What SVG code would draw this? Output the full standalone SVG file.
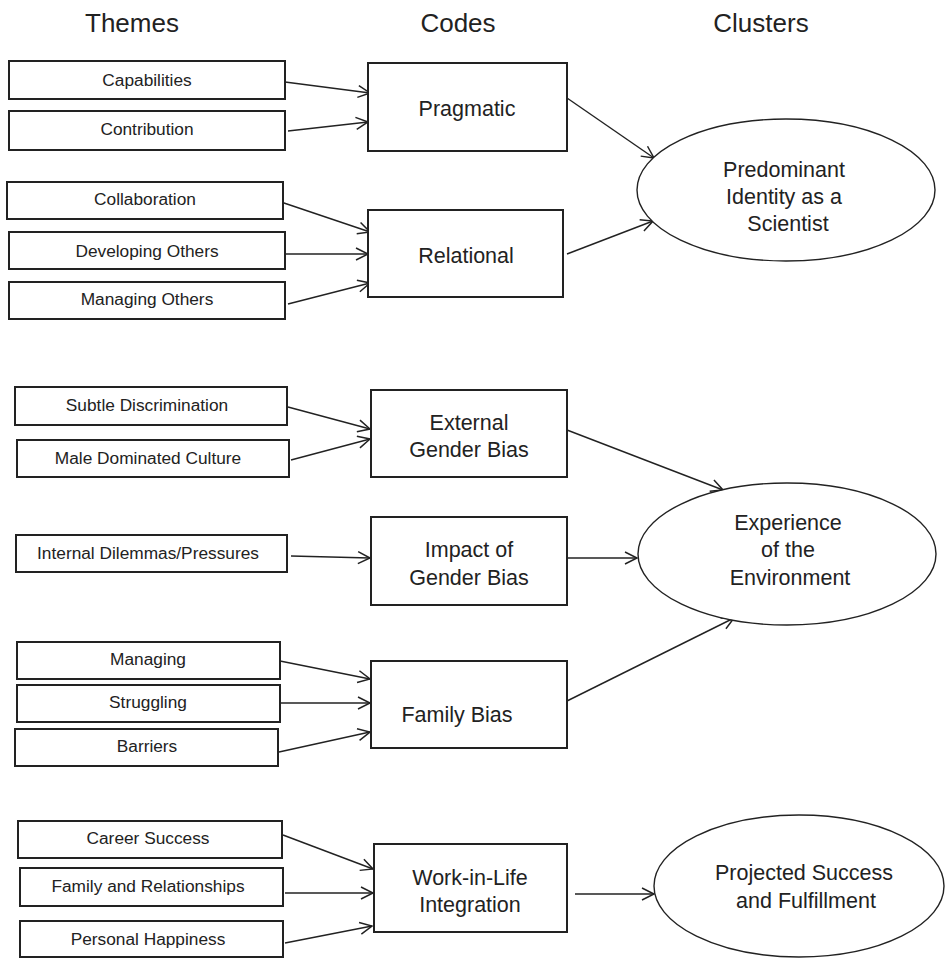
<svg xmlns="http://www.w3.org/2000/svg" width="945" height="958" viewBox="0 0 945 958">
<style>
text{font-family:"Liberation Sans",Arial,sans-serif;fill:#222;text-anchor:middle}
.hd{font-size:26px}
.th{font-size:17.3px}
.cd{font-size:21.5px}
.cl{font-size:21.5px}
.box{fill:#fff;stroke:#222;stroke-width:2}
.ell{fill:#fff;stroke:#222;stroke-width:1.4}
.con line{stroke:#222;stroke-width:1.4;marker-end:url(#ah)}
</style>
<defs>
<marker id="ah" markerUnits="userSpaceOnUse" markerWidth="16" markerHeight="16" refX="13" refY="7" orient="auto">
<path d="M1,1 L13,7 L1,13" fill="none" stroke="#222" stroke-width="1.5"/>
</marker>
</defs>
<rect width="945" height="958" fill="#fff"/>
<g id="headers">
<text class="hd" x="132" y="32">Themes</text>
<text class="hd" x="458" y="32">Codes</text>
<text class="hd" x="761" y="32">Clusters</text>
</g>
<g class="con" id="connectors">
<line x1="285" y1="82" x2="370" y2="93"/>
<line x1="288" y1="131" x2="368" y2="122"/>
<line x1="281" y1="202" x2="370" y2="232"/>
<line x1="286" y1="254" x2="368" y2="254"/>
<line x1="288" y1="304" x2="370" y2="283"/>
<line x1="567" y1="98" x2="654" y2="158"/>
<line x1="567" y1="254" x2="653" y2="221"/>
<line x1="288" y1="407" x2="370" y2="429"/>
<line x1="291" y1="460" x2="370" y2="439"/>
<line x1="291" y1="556" x2="370" y2="558"/>
<line x1="567" y1="430" x2="723" y2="490"/>
<line x1="567" y1="558" x2="637" y2="558"/>
<line x1="567" y1="701" x2="734" y2="618"/>
<line x1="280" y1="661" x2="370" y2="679"/>
<line x1="280" y1="703" x2="370" y2="703"/>
<line x1="279" y1="752" x2="370" y2="732"/>
<line x1="283" y1="835" x2="373" y2="869"/>
<line x1="285" y1="893" x2="373" y2="893"/>
<line x1="285" y1="943" x2="372" y2="926"/>
<line x1="575" y1="894" x2="654" y2="894"/>
</g>
<g id="capabilities"><rect class="box" x="9" y="61" width="276" height="38"/><text class="th" x="147" y="86">Capabilities</text></g>
<g id="contribution"><rect class="box" x="9" y="111" width="276" height="39"/><text class="th" x="147" y="135">Contribution</text></g>
<g id="collaboration"><rect class="box" x="7" y="182" width="276" height="37"/><text class="th" x="145" y="205">Collaboration</text></g>
<g id="developing-others"><rect class="box" x="9" y="232" width="276" height="37"/><text class="th" x="147" y="257">Developing Others</text></g>
<g id="managing-others"><rect class="box" x="9" y="282" width="276" height="37"/><text class="th" x="147" y="305">Managing Others</text></g>
<g id="subtle-discrimination"><rect class="box" x="15" y="387" width="272" height="38"/><text class="th" x="147" y="411">Subtle Discrimination</text></g>
<g id="male-dominated-culture"><rect class="box" x="17" y="440" width="272" height="37"/><text class="th" x="148" y="464">Male Dominated Culture</text></g>
<g id="internal-dilemmas"><rect class="box" x="16" y="535" width="271" height="37"/><text class="th" x="148" y="559">Internal Dilemmas/Pressures</text></g>
<g id="managing"><rect class="box" x="17" y="642" width="263" height="37"/><text class="th" x="148" y="665">Managing</text></g>
<g id="struggling"><rect class="box" x="17" y="685" width="263" height="37"/><text class="th" x="148" y="708">Struggling</text></g>
<g id="barriers"><rect class="box" x="15" y="729" width="263" height="37"/><text class="th" x="147" y="752">Barriers</text></g>
<g id="career-success"><rect class="box" x="18" y="821" width="264" height="37"/><text class="th" x="148" y="844">Career Success</text></g>
<g id="family-relationships"><rect class="box" x="20" y="868" width="263" height="38"/><text class="th" x="148" y="892">Family and Relationships</text></g>
<g id="personal-happiness"><rect class="box" x="20" y="921" width="263" height="36"/><text class="th" x="148" y="945">Personal Happiness</text></g>
<g id="pragmatic"><rect class="box" x="368" y="63" width="199" height="88"/><text class="cd" x="467" y="116">Pragmatic</text></g>
<g id="relational"><rect class="box" x="368" y="210" width="195" height="87"/><text class="cd" x="466" y="263">Relational</text></g>
<g id="external-gender-bias"><rect class="box" x="371" y="390" width="196" height="87"/><text class="cd" x="469" y="430">External</text><text class="cd" x="469" y="457">Gender Bias</text></g>
<g id="impact-gender-bias"><rect class="box" x="371" y="517" width="196" height="88"/><text class="cd" x="469" y="557">Impact of</text><text class="cd" x="469" y="585">Gender Bias</text></g>
<g id="family-bias"><rect class="box" x="371" y="661" width="196" height="87"/><text class="cd" x="457" y="722">Family Bias</text></g>
<g id="work-in-life"><rect class="box" x="374" y="844" width="193" height="88"/><text class="cd" x="470" y="885">Work-in-Life</text><text class="cd" x="470" y="912">Integration</text></g>
<g id="predominant-identity"><ellipse class="ell" cx="786" cy="190" rx="149" ry="71"/><text class="cl" x="784" y="177">Predominant</text><text class="cl" x="784" y="204">Identity as a</text><text class="cl" x="788" y="231">Scientist</text></g>
<g id="experience-environment"><ellipse class="ell" cx="787" cy="554" rx="149" ry="71"/><text class="cl" x="788" y="530">Experience</text><text class="cl" x="788" y="557">of the</text><text class="cl" x="790" y="585">Environment</text></g>
<g id="projected-success"><ellipse class="ell" cx="799" cy="886" rx="145" ry="71"/><text class="cl" x="804" y="880">Projected Success</text><text class="cl" x="806" y="908">and Fulfillment</text></g>
</svg>
